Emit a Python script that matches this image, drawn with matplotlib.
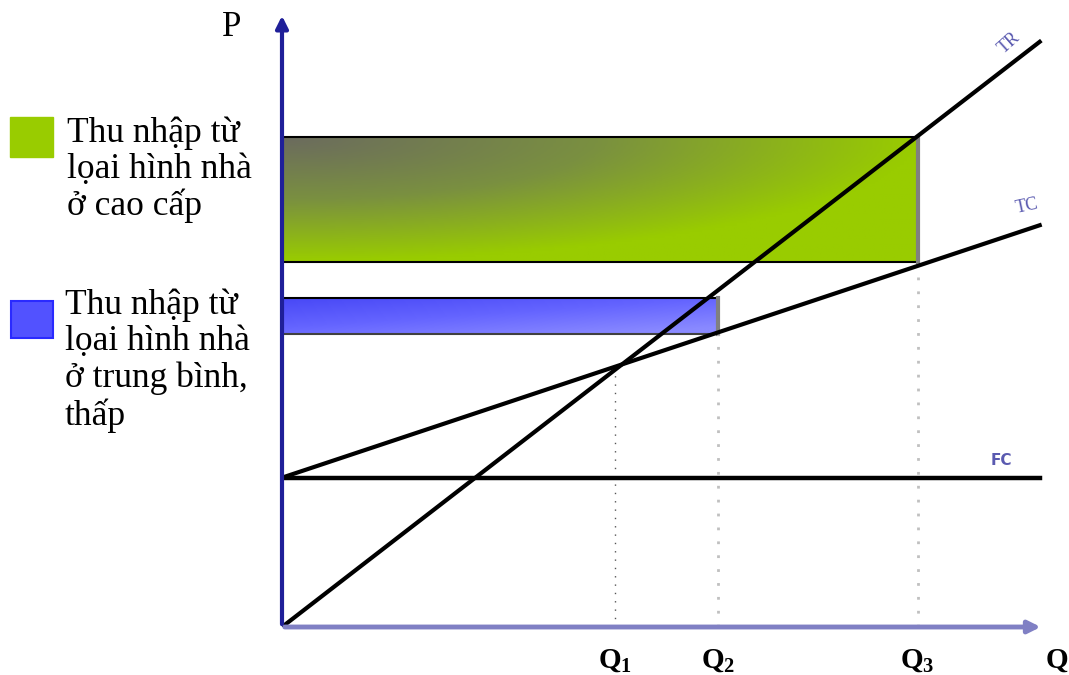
import matplotlib.pyplot as plt
import numpy as np
from matplotlib.colors import LinearSegmentedColormap

plt.rcParams['font.family'] = ['Liberation Serif', 'DejaVu Serif']
plt.rcParams['mathtext.fontset'] = 'custom'
plt.rcParams['mathtext.rm'] = 'Liberation Serif'
plt.rcParams['mathtext.bf'] = 'Liberation Serif:bold'

# du lieu (don vi tuy y)
q_ends = [0, 10]
tr_ends = [0, 7.72]
tc_ends = [1.97, 5.30]
fc = 1.97
q_marks = [4.39, 5.75, 8.39]
q_names = [r'$\mathbf{Q}_{\mathbf{1}}$', r'$\mathbf{Q}_{\mathbf{2}}$', r'$\mathbf{Q}_{\mathbf{3}}$']
cao_cap = [4.82, 6.46]      # day, dinh vung xanh la
trung_binh = [3.87, 4.34]   # day, dinh vung xanh duong
dinh_q1 = 3.40

W, H = 1069, 675
fig = plt.figure(figsize=(W / 100, H / 100), dpi=100)
ax = fig.add_axes([282 / W, 48 / H, 763 / W, 614 / H])
ax.set_xlim(0, 10.07)
ax.set_ylim(0, 8.1)
ax.axis('off')

# gradient: 0 o goc tren trai
gx = np.linspace(0, 1, 200)[None, :]
gy = np.linspace(0, 1, 60)[:, None]

# vung thu nhap cao cap
grad = np.clip(np.sqrt(gx ** 2 + gy ** 2), 0, 1)
cm_g = LinearSegmentedColormap.from_list('g', ['#6b6b5e', '#7a9040', '#99cc00'])
ax.imshow(grad, extent=[-0.05, q_marks[2], cao_cap[0], cao_cap[1]], cmap=cm_g,
          aspect='auto', origin='upper', zorder=1)
ax.plot([-0.05, q_marks[2]], [cao_cap[1]] * 2, color='black', lw=1.5, zorder=2)
ax.plot([-0.05, q_marks[2]], [cao_cap[0]] * 2, color='black', lw=1.5, zorder=2)
ax.plot([q_marks[2]] * 2, cao_cap, color='#808080', lw=3, zorder=2)

# vung thu nhap trung binh, thap
grad_b = np.clip(0.5 * gx + 0.6 * gy, 0, 1)
cm_b = LinearSegmentedColormap.from_list('b', ['#4848f6', '#6464ff', '#8a8aff'])
ax.imshow(grad_b, extent=[-0.05, q_marks[1], trung_binh[0], trung_binh[1]], cmap=cm_b,
          aspect='auto', origin='upper', zorder=1)
ax.plot([-0.05, q_marks[1]], [trung_binh[1]] * 2, color='black', lw=1.5, zorder=2)
ax.plot([-0.05, q_marks[1]], [trung_binh[0]] * 2, color='#404040', lw=1.5, zorder=2)
ax.plot([q_marks[1]] * 2, trung_binh, color='#808080', lw=3, zorder=2)

# duong dong chieu
ax.plot([q_marks[0]] * 2, [0, dinh_q1], color='#555555', lw=1, ls=(0, (1, 5)), zorder=2)
ax.plot([q_marks[1]] * 2, [0, trung_binh[0]], color='#c0c0c0', lw=2, ls=(0, (1, 4)), zorder=2)
ax.plot([q_marks[2]] * 2, [0, cao_cap[0]], color='#c0c0c0', lw=2, ls=(0, (1, 4)), zorder=2)

# TR, TC, FC
ax.plot(q_ends, tr_ends, color='black', lw=3, zorder=3)
ax.plot(q_ends, tc_ends, color='black', lw=3, zorder=3)
ax.plot(q_ends, [fc, fc], color='black', lw=3.2, zorder=3)

# truc
ax.annotate('', xy=(0, 8.1), xytext=(0, 0),
            arrowprops=dict(arrowstyle='-|>', color='#1f1f99', lw=3, mutation_scale=18),
            annotation_clip=False, zorder=4)
ax.annotate('', xy=(10.05, 0), xytext=(0, 0),
            arrowprops=dict(arrowstyle='-|>', color='#8080c4', lw=3.5, mutation_scale=18),
            annotation_clip=False, zorder=4)

ax.text(9.6, 7.7, 'TR', color='#5a5ab0', fontsize=13, rotation=42, ha='center', va='center')
ax.text(9.83, 5.55, 'TC', color='#5a5ab0', fontsize=13, rotation=12, ha='center', va='center')
ax.text(9.5, 2.2, 'FC', color='#5a5ab0', fontsize=11, fontweight='bold', family='DejaVu Sans',
        ha='center', va='center')

for q, name in zip(q_marks, q_names):
    ax.text(q, -0.45, name, fontsize=21, ha='center', va='center')
ax.text(10.22, -0.45, r'$\mathbf{Q}$', fontsize=21, ha='center', va='center')
fig.text(232 / W, 1 - 28 / H, 'P', fontsize=25, ha='center', va='center')

# chu giai
fig.patches.append(plt.Rectangle((10 / W, 1 - 157 / H), 43 / W, 40 / H, color='#99cc00',
                                 transform=fig.transFigure))
fig.patches.append(plt.Rectangle((11 / W, 1 - 338 / H), 42 / W, 37 / H, facecolor='#5252ff',
                                 edgecolor='#2a2aff', lw=1.5, transform=fig.transFigure))
fig.text(67 / W, 1 - 116 / H, 'Thu nhập từ\nlọai hình nhà\nở cao cấp', fontsize=25.5,
         ha='left', va='top', linespacing=1.12)
fig.text(65 / W, 1 - 289 / H, 'Thu nhập từ\nlọai hình nhà\nở trung bình,\nthấp', fontsize=25.5,
         ha='left', va='top', linespacing=1.12)

fig.savefig('out.png', dpi=100)
